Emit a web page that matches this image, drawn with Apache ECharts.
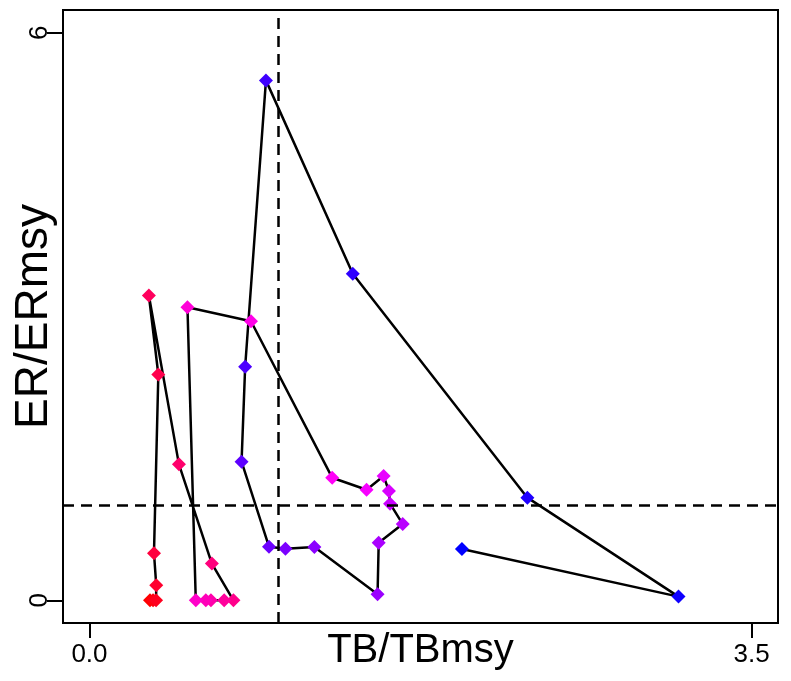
<!DOCTYPE html>
<html>
<head>
<meta charset="utf-8">
<script src="https://cdn.jsdelivr.net/npm/echarts@6/dist/echarts.min.js"></script>
<style>
html,body{margin:0;padding:0;background:#fff;}
#chart{width:791px;height:681px;}
</style>
</head>
<body>
<div id="chart"></div>
<script>
// Trajectory: TB/TBmsy (x) and ER/ERmsy (y), in time order (red -> blue)
const tbRatio = [0.320, 0.336, 0.352, 0.353, 0.341, 0.364, 0.314, 0.473, 0.647,
  0.761, 0.712, 0.642, 0.615, 0.562, 0.518, 0.854, 1.283, 1.465, 1.555, 1.583,
  1.589, 1.656, 1.529, 1.523, 1.189, 1.036, 0.949, 0.804, 0.823, 0.933, 1.392,
  2.315, 3.114, 1.969];
const erRatio = [0.000, 0.000, 0.000, 0.158, 0.497, 2.387, 3.222, 1.437, 0.388,
  0.000, 0.000, 0.000, 0.000, 0.000, 3.098, 2.950, 1.296, 1.169, 1.313, 1.155,
  1.021, 0.806, 0.609, 0.063, 0.563, 0.546, 0.567, 1.465, 2.469, 5.496, 3.451,
  1.085, 0.039, 0.542];
const xTicks = [0, 3.5];
const yTicks = [0, 6];
const refX = 1;
const refY = 1;

function rampColor(i, n) {
  // red -> magenta -> blue
  const t = n > 1 ? i / (n - 1) : 0;
  let r, g = 0, b;
  if (t <= 0.5) { r = 255; b = Math.round(255 * t / 0.5); }
  else { r = Math.round(255 * (1 - (t - 0.5) / 0.5)); b = 255; }
  return 'rgb(' + r + ',' + g + ',' + b + ')';
}

const n = tbRatio.length;
const pts = tbRatio.map((x, i) => ({
  value: [x, erRatio[i]],
  itemStyle: { color: rampColor(i, n) }
}));

const font = 'Liberation Sans, Arial, Helvetica, sans-serif';
const chart = echarts.init(document.getElementById('chart'), null, { renderer: 'canvas' });
chart.setOption({
  backgroundColor: '#ffffff',
  animation: false,
  grid: {
    left: 63, right: 13, top: 10, bottom: 58,
    containLabel: false, outerBoundsMode: 'none',
    show: true, borderColor: '#000', borderWidth: 2, backgroundColor: 'transparent'
  },
  xAxis: {
    type: 'value', min: -0.14, max: 3.64,
    name: 'TB/TBmsy', nameLocation: 'middle', nameGap: 8, nameMoveOverlap: false,
    nameTextStyle: { fontFamily: font, fontSize: 40, color: '#000' },
    axisLine: { show: false, onZero: false },
    splitLine: { show: false },
    axisTick: { show: true, customValues: xTicks, length: 15, lineStyle: { color: '#000', width: 2 } },
    axisLabel: { customValues: xTicks, formatter: v => v.toFixed(1), fontFamily: font, fontSize: 26, color: '#000', margin: 19 }
  },
  yAxis: {
    type: 'value', min: -0.24, max: 6.24,
    name: 'ER/ERmsy', nameLocation: 'middle', nameGap: 6, nameMoveOverlap: false,
    nameTextStyle: { fontFamily: font, fontSize: 46, color: '#000' },
    axisLine: { show: false, onZero: false },
    splitLine: { show: false },
    axisTick: { show: true, customValues: yTicks, length: 16, lineStyle: { color: '#000', width: 2 } },
    axisLabel: { customValues: yTicks, rotate: 90, fontFamily: font, fontSize: 26, color: '#000', margin: 10 }
  },
  series: [{
    type: 'line',
    data: pts,
    symbol: 'diamond',
    symbolSize: 14,
    showAllSymbol: true,
    lineStyle: { color: '#000', width: 2.5 },
    z: 3,
    markLine: {
      silent: true,
      symbol: 'none',
      label: { show: false },
      lineStyle: { color: '#000', width: 2.5, type: [11, 7] },
      data: [{ xAxis: refX }, { yAxis: refY }]
    }
  }]
});
</script>
</body>
</html>
